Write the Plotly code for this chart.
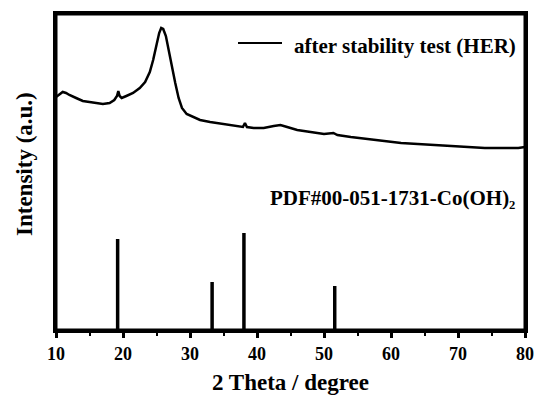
import plotly.graph_objects as go

# Measured XRD pattern (2θ in degrees, intensity in arbitrary units)
two_theta = [10.0, 10.5, 11.0, 11.5, 12.0, 13.0, 14.0, 15.0, 16.0, 17.0, 18.0, 18.7,
             19.1, 19.3, 19.5, 19.8, 20.5, 21.5, 22.5, 23.3, 24.0, 24.5, 25.0, 25.4,
             25.7, 26.0, 26.4, 26.8, 27.3, 27.8, 28.3, 28.8, 29.5, 30.5, 31.5, 33.0,
             35.0, 37.0, 37.9, 38.2, 38.5, 39.5, 41.0, 42.5, 43.5, 44.5, 46.0, 48.0,
             50.0, 51.4, 52.0, 54.0, 56.5, 59.0, 61.5, 64.0, 66.5, 69.0, 71.5, 74.0,
             76.5, 79.0, 80.0]
intensity = [233, 236, 238, 237, 235, 232, 229, 228, 227, 226, 227, 230,
             234, 239, 234, 232, 234, 237, 242, 248, 258, 270, 285, 297,
             302, 301, 294, 280, 264, 247, 232, 222, 216, 213, 210, 208,
             206, 204, 203, 207, 203, 202, 202, 204, 205, 203, 200, 198,
             196, 197, 195, 193, 191, 189, 187, 186, 185, 184, 183, 182,
             182, 182, 183]

# Reference pattern PDF#00-051-1731 Co(OH)2
ref_pos = [19.2, 33.3, 38.05, 51.6]
ref_int = [91, 48, 97, 44]

x_ticks = [10, 20, 30, 40, 50, 60, 70, 80]
series_name = "after stability test (HER)"
ref_name = "PDF#00-051-1731-Co(OH)₂"

FONT = "Liberation Serif"
X_RANGE = [10, 80]
Y_RANGE = [0, 316]

def bfont(size):
    return dict(family=FONT, size=size, color="black", weight="bold")

fig = go.Figure()
fig.add_trace(go.Scatter(
    x=two_theta, y=intensity, mode="lines",
    line=dict(color="black", width=2.5), name=series_name, showlegend=False))

sx, sy = [], []
for p, h in zip(ref_pos, ref_int):
    sx += [p, p, None]
    sy += [0, h, None]
fig.add_trace(go.Scatter(x=sx, y=sy, mode="lines", name=ref_name,
                         line=dict(color="black", width=3.5),
                         showlegend=False, hoverinfo="skip"))

# legend: line sample + label
fig.add_shape(type="line", xref="paper", yref="paper",
              x0=(238 - 56) / 469, x1=(282 - 56) / 469,
              y0=(330 - 43) / 316, y1=(330 - 43) / 316,
              line=dict(color="black", width=2))
fig.add_annotation(x=(292 - 56) / 469, y=(330 - 46) / 316, xref="paper", yref="paper",
                   xanchor="left", yanchor="middle", showarrow=False,
                   text=series_name, font=bfont(21))

fig.add_annotation(x=0.983, y=(330 - 198) / 316, xref="paper", yref="paper",
                   xanchor="right", yanchor="middle", showarrow=False,
                   text=ref_name, font=bfont(21))

# axis titles
fig.add_annotation(x=0.5, y=(330 - 382) / 316, xref="paper", yref="paper",
                   xanchor="center", yanchor="middle", showarrow=False,
                   text="2 Theta / degree", font=bfont(23))
fig.add_annotation(x=(24 - 56) / 469, y=(330 - 164) / 316, xref="paper", yref="paper",
                   xanchor="center", yanchor="middle", showarrow=False, textangle=-90,
                   text="Intensity (a.u.)", font=bfont(23))

# plot frame
fig.add_shape(type="rect", xref="paper", yref="paper", x0=0, y0=0, x1=1, y1=1,
              line=dict(color="black", width=3), fillcolor="rgba(0,0,0,0)",
              layer="above")

fig.update_layout(
    width=538, height=396,
    margin=dict(l=56, r=13, t=14, b=66),
    paper_bgcolor="white", plot_bgcolor="white",
    showlegend=False,
    xaxis=dict(range=X_RANGE, tickvals=x_ticks,
               ticks="outside", ticklen=5, tickwidth=2.5, tickcolor="black",
               minor=dict(dtick=5, ticks="outside", ticklen=3, tickwidth=2,
                          tickcolor="black"),
               showline=True, linewidth=3, linecolor="black", mirror=True,
               showgrid=False, zeroline=False, automargin=False,
               tickfont=bfont(18)),
    yaxis=dict(range=Y_RANGE, tickvals=[],
               showline=True, linewidth=3, linecolor="black", mirror=True,
               showgrid=False, zeroline=False, automargin=False),
)

fig.write_html("out.html")
